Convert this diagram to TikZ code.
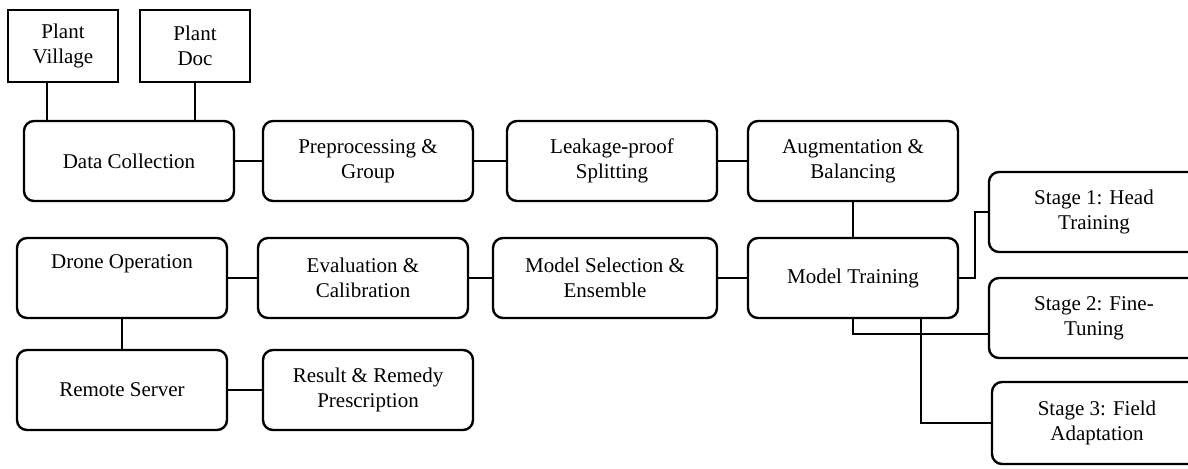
\documentclass[tikz,border=0pt]{standalone}
\usepackage{fontspec}
\setmainfont{Liberation Serif}
\tikzset{
  stepbox/.style={draw, line width=1.2pt, rounded corners=5pt, minimum width=105pt,
    minimum height=40pt, align=center, inner sep=2pt,
    font=\fontsize{10.5}{12.5}\selectfont},
  srcbox/.style={draw, line width=1.1pt, minimum width=55pt, minimum height=36pt,
    align=center, inner sep=2pt, font=\fontsize{10.5}{12.5}\selectfont},
  link/.style={line width=1pt}
}

\begin{document}
\begin{tikzpicture}[x=0.5pt, y=-0.5pt]
    \clip (0,0) rectangle (1188,468);

    % data sources
    \node [srcbox] (village) at (63, 46) {Plant\\Village};
    \node [srcbox] (doc) at (195, 46) {Plant\\Doc};

    % first row
    \node [stepbox] (collect) at (129, 161) {Data Collection};
    \node [stepbox] (prep) at (368, 161) {Preprocessing \&\\Group};
    \node [stepbox] (split) at (612, 161) {Leakage-proof\\Splitting};
    \node [stepbox] (augment) at (853, 161) {Augmentation \&\\Balancing};

    % second row
    \node [stepbox] (drone) at (122, 278) {Drone Operation\\\strut};
    \node [stepbox] (evaluate) at (363, 278) {Evaluation \&\\Calibration};
    \node [stepbox, minimum width=112pt] (select) at (605, 278) {Model Selection \&\\Ensemble};
    \node [stepbox] (train) at (853, 278) {Model Training};

    % third row
    \node [stepbox] (server) at (122, 390) {Remote Server};
    \node [stepbox] (result) at (368, 390) {Result \& Remedy\\Prescription};

    % training stages
    \node [stepbox] (stage1) at (1094, 212) {Stage 1: Head\\Training};
    \node [stepbox] (stage2) at (1094, 318) {Stage 2: Fine-\\Tuning};
    \node [stepbox, minimum height=41pt] (stage3) at (1097, 423) {Stage 3: Field\\Adaptation};

    \draw [link] ([xshift=-8pt]village.south) -- ([xshift=-8pt]village.south |- collect.north);
    \draw [link] (doc.south) -- (doc.south |- collect.north);
    \draw [link] (collect) -- (prep);
    \draw [link] (prep) -- (split);
    \draw [link] (split) -- (augment);
    \draw [link] (augment) -- (train);
    \draw [link] (train) -- (select);
    \draw [link] (select) -- (evaluate);
    \draw [link] (evaluate) -- (drone);
    \draw [link] (drone) -- (server);
    \draw [link] (server) -- (result);
    \draw [link] (train.east) -- ++(16,0) |- (stage1.west);
    \draw [link] (train.south) |- ([yshift=-8pt]stage2.west);
    \draw [link] ([xshift=34pt]train.south) |- (stage3.west);
\end{tikzpicture}
\end{document}
